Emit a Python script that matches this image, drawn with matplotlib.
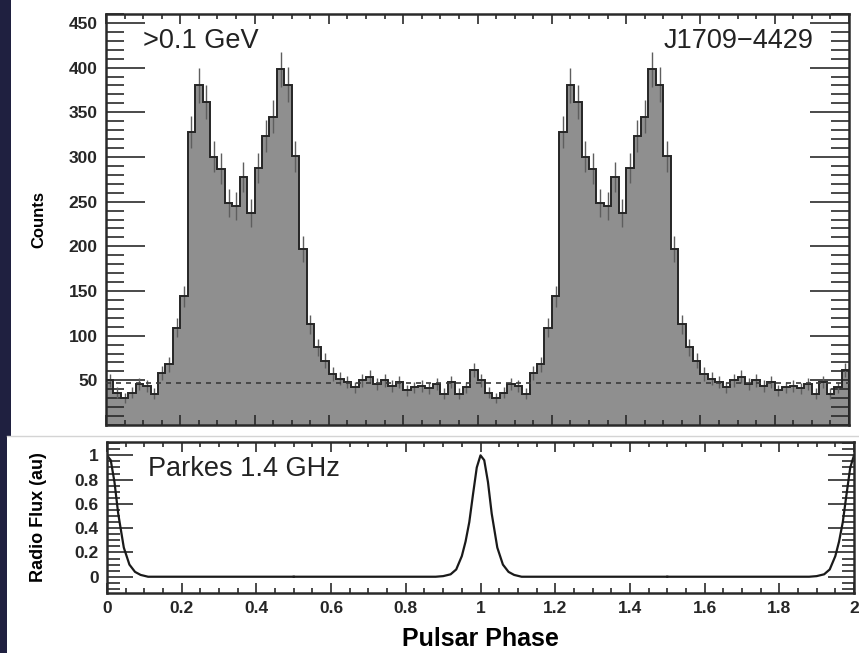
import numpy as np
import matplotlib.pyplot as plt
from matplotlib.patches import Rectangle
from matplotlib.lines import Line2D
from matplotlib.ticker import MultipleLocator, FixedLocator

plt.rcParams['font.family'] = ['Liberation Sans', 'DejaVu Sans']

# gamma-ray light curve, 50 bins per rotation, shown twice (phase 0-2)
counts_one = [50, 36, 30, 36, 46, 44, 35, 58, 68, 109,
              144, 328, 380, 362, 300, 287, 248, 245, 278, 237,
              288, 323, 345, 398, 381, 301, 197, 113, 87, 72,
              57, 52, 48, 42, 50, 54, 46, 50, 44, 48,
              39, 42, 44, 41, 46, 35, 48, 35, 42, 62]
background = 47

# radio profile around the main pulse (offset from pulse phase, flux)
radio_offset = [-0.50, -0.12, -0.10, -0.08, -0.065, -0.05, -0.04, -0.03, -0.02, -0.01,
                0.0, 0.01, 0.02, 0.03, 0.045, 0.06, 0.075, 0.09, 0.11, 0.50]
radio_flux = [0.0, 0.0, 0.005, 0.02, 0.06, 0.17, 0.29, 0.45, 0.68, 0.9,
              1.0, 0.96, 0.78, 0.52, 0.24, 0.1, 0.04, 0.015, 0.0, 0.0]

counts = np.array(counts_one * 2, dtype=float)
edges = np.linspace(0, 2, len(counts) + 1)
centers = 0.5 * (edges[:-1] + edges[1:])
errors = np.sqrt(counts)

fig = plt.figure(figsize=(8.59, 6.53), dpi=100)
fig.patch.set_facecolor('#1f2040')
fig.patches.append(Rectangle((11 / 859, 1 - 436 / 653), 1, 436 / 653,
                             transform=fig.transFigure, facecolor='white', zorder=-5))
fig.patches.append(Rectangle((7 / 859, 0), 1, 1 - 436 / 653,
                             transform=fig.transFigure, facecolor='white', zorder=-5))
fig.lines.append(Line2D([7 / 859, 1], [1 - 436 / 653] * 2, transform=fig.transFigure,
                        color='#d4d4d4', linewidth=1.0))

ax1 = fig.add_axes([106 / 859, 1 - 425 / 653, 743 / 859, 411 / 653])
ax2 = fig.add_axes([107 / 859, 1 - 593 / 653, 747 / 859, 151 / 653])

# top panel
ax1.stairs(counts, edges, fill=True, facecolor='#8f8f8f', zorder=1)
ax1.errorbar(centers, counts, yerr=errors, fmt='none', ecolor='#5e5e5e',
             elinewidth=1.0, zorder=2)
ax1.stairs(counts, edges, color='#262626', linewidth=1.4, zorder=3)
ax1.axhline(background, color='#3a3a3a', linestyle=(0, (3, 3)), linewidth=1.2, zorder=4)
ax1.set_xlim(0, 2)
ax1.set_ylim(0, 460)
ax1.yaxis.set_major_locator(FixedLocator([50, 100, 150, 200, 250, 300, 350, 400, 450]))
ax1.yaxis.set_minor_locator(MultipleLocator(10))
ax1.xaxis.set_major_locator(MultipleLocator(0.2))
ax1.set_ylabel('Counts', fontsize=12, fontweight='bold', labelpad=16)
ax1.tick_params(axis='x', labelbottom=False)
ax1.text(0.05, 0.935, '>0.1 GeV', transform=ax1.transAxes, fontsize=19.5,
         color='#222222', va='center', ha='left')
ax1.text(0.952, 0.935, 'J1709\u22124429', transform=ax1.transAxes, fontsize=19.5,
         color='#222222', va='center', ha='right')

# bottom panel
for k in range(3):
    ax2.plot(np.array(radio_offset) + k, radio_flux, color='#1a1a1a', linewidth=1.6)
ax2.set_xlim(0, 2)
ax2.set_ylim(-0.134, 1.11)
ax2.yaxis.set_minor_locator(MultipleLocator(0.05))
ax2.set_yticks([0, 0.2, 0.4, 0.6, 0.8, 1.0])
ax2.set_yticklabels(['0', '0.2', '0.4', '0.6', '0.8', '1'])
ax2.set_xticks([0, 0.2, 0.4, 0.6, 0.8, 1.0, 1.2, 1.4, 1.6, 1.8, 2.0])
ax2.set_xticklabels(['0', '0.2', '0.4', '0.6', '0.8', '1', '1.2', '1.4', '1.6', '1.8', '2'])
ax2.set_ylabel('Radio Flux (au)', fontsize=13, fontweight='bold', labelpad=20)
ax2.set_xlabel('Pulsar Phase', fontsize=18, fontweight='bold', labelpad=8)
ax2.text(0.055, 0.82, 'Parkes 1.4 GHz', transform=ax2.transAxes, fontsize=19.5,
         color='#222222', va='center', ha='left')

for ax in (ax1, ax2):
    ax.xaxis.set_minor_locator(MultipleLocator(0.05))
    ax.tick_params(which='both', direction='in', top=True, right=True,
                   color='#2a2a2a', width=1.2)
    ax.tick_params(axis='both', which='major', labelsize=12.5, labelcolor='#262626', pad=6)
    for lab in ax.get_xticklabels() + ax.get_yticklabels():
        lab.set_fontweight('bold')
    for s in ax.spines.values():
        s.set_linewidth(1.8)
        s.set_color('#2a2a2a')

ax1.xaxis.set_tick_params(which='major', length=7)
ax1.xaxis.set_tick_params(which='minor', length=3.5)
ax1.yaxis.set_tick_params(which='major', length=28)
ax1.yaxis.set_tick_params(which='minor', length=13)
ax2.xaxis.set_tick_params(which='major', length=7)
ax2.xaxis.set_tick_params(which='minor', length=3.5)
ax2.yaxis.set_tick_params(which='major', length=19)
ax2.yaxis.set_tick_params(which='minor', length=9)

fig.savefig('out.png', dpi=100, facecolor=fig.get_facecolor())
